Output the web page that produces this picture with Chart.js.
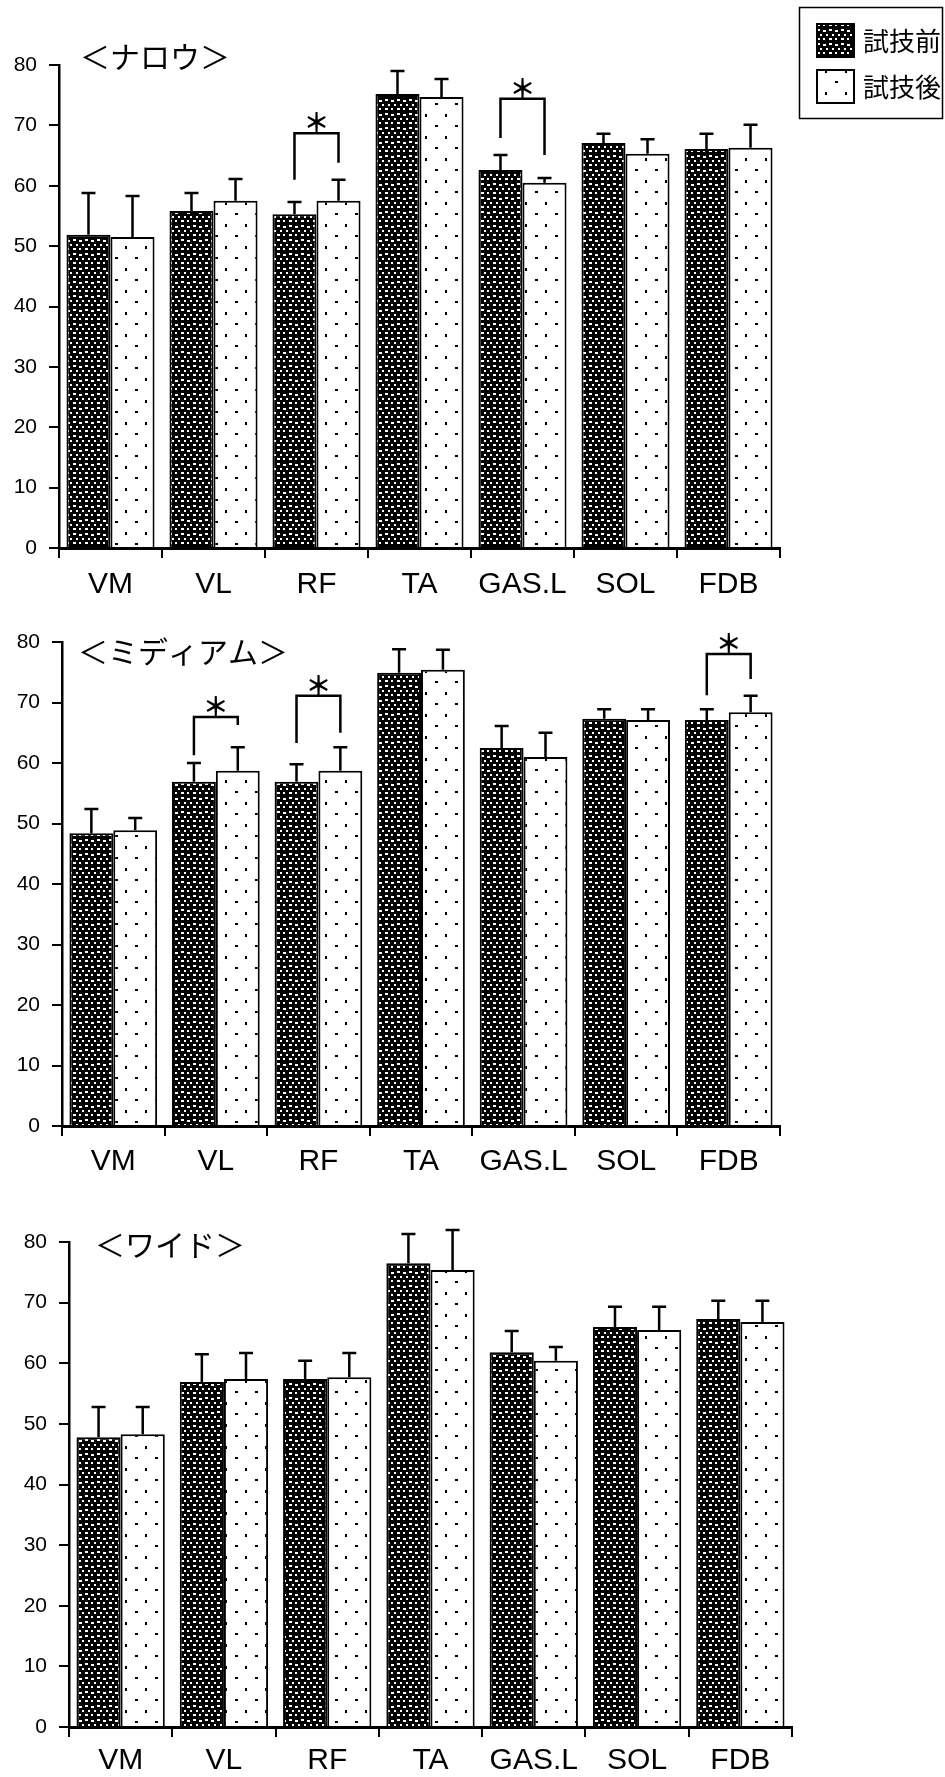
<!DOCTYPE html>
<html>
<head>
<meta charset="utf-8">
<script src="https://cdn.jsdelivr.net/npm/chart.js@4.4.0/dist/chart.umd.min.js"></script>
<style>
  body { margin: 0; background: #fff; width: 945px; height: 1777px; position: relative; overflow: hidden; }
  .panel { position: absolute; left: 0; width: 945px; }
</style>
</head>
<body>
<div class="panel" style="top:0;height:600px"><canvas id="narrow" width="945" height="600"></canvas></div>
<div class="panel" style="top:600px;height:600px"><canvas id="medium" width="945" height="600"></canvas></div>
<div class="panel" style="top:1200px;height:577px"><canvas id="wide" width="945" height="577"></canvas></div>
<script>
const categories = ['VM', 'VL', 'RF', 'TA', 'GAS.L', 'SOL', 'FDB'];
const seriesLabels = ['試技前', '試技後'];
const yTickStep = 10;
const yMax = 80;

// ナロウ
const narrowPre = [51.9, 55.8, 55.3, 75.2, 62.6, 67.1, 66.1];
const narrowPreSD = [6.9, 3.0, 2.0, 3.8, 2.5, 1.5, 2.5];
const narrowPost = [51.5, 57.5, 57.5, 74.7, 60.5, 65.3, 66.3];
const narrowPostSD = [6.8, 3.6, 3.5, 3.0, 0.8, 2.4, 3.8];
// [category, bracket level, left leg end, right leg end]
const narrowSig = [['RF', 68.7, 61.0, 63.8], ['GAS.L', 74.4, 67.9, 65.1]];

// ミディアム
const mediumPre = [48.4, 56.9, 56.9, 74.9, 62.5, 67.3, 67.1];
const mediumPreSD = [4.0, 3.1, 2.9, 3.9, 3.6, 1.6, 1.8];
const mediumPost = [48.9, 58.7, 58.7, 75.4, 61.0, 67.1, 68.4];
const mediumPostSD = [2.0, 3.9, 3.9, 3.3, 4.0, 1.8, 2.7];
const mediumSig = [['VL', 67.6, 61.3, 66.3], ['RF', 71.1, 63.3, 65.0], ['FDB', 78.0, 71.2, 73.9]];

// ワイド
const widePre = [47.8, 56.9, 57.4, 76.5, 61.8, 66.0, 67.3];
const widePreSD = [5.0, 4.6, 3.0, 4.8, 3.5, 3.3, 3.0];
const widePost = [48.3, 57.4, 57.7, 75.4, 60.4, 65.5, 66.8];
const widePostSD = [4.5, 4.3, 4.0, 6.6, 2.3, 3.8, 3.5];
const wideSig = [];

function makePattern(dark) {
  const tile = document.createElement('canvas');
  const g = tile.getContext('2d');
  if (dark) {
    tile.width = 12; tile.height = 14;
    g.fillStyle = '#000'; g.fillRect(0, 0, 12, 14);
    g.fillStyle = '#fff';
    g.fillRect(1, 1, 3, 2); g.fillRect(7, 2, 3, 2);
    g.fillRect(4, 6, 2, 2); g.fillRect(10, 6, 2, 2);
    g.fillRect(1, 10, 3, 2); g.fillRect(7, 10, 2, 2);
  } else {
    tile.width = 20; tile.height = 22;
    g.fillStyle = '#fff'; g.fillRect(0, 0, 20, 22);
    g.fillStyle = '#000';
    g.fillRect(5, 4, 2, 3); g.fillRect(15, 15, 3, 2);
  }
  return document.createElement('canvas').getContext('2d').createPattern(tile, 'repeat');
}
const darkFill = makePattern(true);
const lightFill = makePattern(false);

const errorBars = {
  id: 'errorBars',
  afterDatasetsDraw(chart, args, opts) {
    const { ctx } = chart;
    const y = chart.scales.y;
    ctx.save();
    ctx.strokeStyle = '#000';
    ctx.lineWidth = 2.5;
    opts.sd.forEach((sd, di) => {
      const ds = chart.data.datasets[di];
      chart.getDatasetMeta(di).data.forEach((bar, i) => {
        const y0 = y.getPixelForValue(ds.data[i]);
        const y1 = y.getPixelForValue(ds.data[i] + sd[i]);
        ctx.beginPath();
        ctx.moveTo(bar.x, y0); ctx.lineTo(bar.x, y1);
        ctx.moveTo(bar.x - 7, y1); ctx.lineTo(bar.x + 7, y1);
        ctx.stroke();
      });
    });
    // significance brackets
    ctx.lineWidth = 2.5;
    ctx.font = 'bold 26px "Noto Sans CJK JP"';
    ctx.fillStyle = '#000';
    ctx.textAlign = 'center';
    ctx.textBaseline = 'middle';
    opts.sig.forEach(([cat, level, leftEnd, rightEnd]) => {
      const i = categories.indexOf(cat);
      const xl = chart.getDatasetMeta(0).data[i].x;
      const xr = chart.getDatasetMeta(1).data[i].x;
      const yt = y.getPixelForValue(level);
      ctx.beginPath();
      ctx.moveTo(xl, y.getPixelForValue(leftEnd));
      ctx.lineTo(xl, yt); ctx.lineTo(xr, yt);
      ctx.lineTo(xr, y.getPixelForValue(rightEnd));
      ctx.stroke();
      ctx.fillText('＊', (xl + xr) / 2, yt - 11);
    });
    ctx.restore();
  }
};

const panelTitle = {
  id: 'panelTitle',
  afterDraw(chart, args, opts) {
    const { ctx, chartArea } = chart;
    ctx.save();
    ctx.font = '30px "Noto Sans CJK JP"';
    ctx.fillStyle = '#000';
    ctx.textAlign = 'left';
    ctx.textBaseline = 'middle';
    ctx.fillText(opts.text, chartArea.left + opts.dx, chartArea.top + opts.dy);
    ctx.restore();
  }
};

const boxLegend = {
  id: 'boxLegend',
  afterDraw(chart, args, opts) {
    if (!opts.show) return;
    const { ctx } = chart;
    ctx.save();
    ctx.strokeStyle = '#000';
    ctx.lineWidth = 1.5;
    ctx.strokeRect(799.5, 7.5, 143, 111);
    ctx.font = '26px "Noto Sans CJK JP"';
    ctx.textBaseline = 'middle';
    ctx.fillStyle = '#000';
    chart.data.datasets.forEach((ds, i) => {
      const top = 23 + i * 46;
      ctx.fillStyle = ds.backgroundColor;
      ctx.fillRect(816, top, 39, 35);
      ctx.lineWidth = 2;
      ctx.strokeRect(817, top + 1, 37, 33);
      ctx.fillStyle = '#000';
      ctx.fillText(ds.label, 863, top + 18);
    });
    ctx.restore();
  }
};

function makeChart(id, pre, preSD, post, postSD, sig, title, layout) {
  new Chart(document.getElementById(id), {
    type: 'bar',
    data: {
      labels: categories,
      datasets: [
        { label: seriesLabels[0], data: pre, backgroundColor: darkFill },
        { label: seriesLabels[1], data: post, backgroundColor: lightFill }
      ]
    },
    options: {
      responsive: false,
      animation: false,
      devicePixelRatio: 1,
      layout: { padding: { top: layout.top, right: layout.right, left: 0, bottom: 0 } },
      datasets: {
        bar: {
          categoryPercentage: 0.855,
          barPercentage: 1.0,
          borderColor: '#000',
          borderWidth: 2,
          borderSkipped: 'bottom'
        }
      },
      plugins: {
        legend: { display: false },
        tooltip: { enabled: false },
        errorBars: { sd: [preSD, postSD], sig: sig },
        panelTitle: { text: title, dx: layout.titleX, dy: layout.titleY },
        boxLegend: { show: !!layout.legend }
      },
      scales: {
        x: {
          grid: { display: true, drawOnChartArea: false, drawTicks: true, tickLength: 10, color: '#000', lineWidth: 2, offset: true },
          border: { display: true, color: '#000', width: 3 },
          ticks: { color: '#000', font: { family: 'Liberation Sans', size: 30 }, padding: layout.labelPad, maxRotation: 0, autoSkip: false },
          afterFit(s) { s.height = layout.xh; }
        },
        y: {
          min: 0,
          max: yMax,
          ticks: { stepSize: yTickStep, color: '#000', font: { family: 'Liberation Sans', size: 21 }, padding: 12 },
          grid: { drawOnChartArea: false, tickLength: 10, color: '#000', lineWidth: 2 },
          border: { display: true, color: '#000', width: 2.5 },
          afterFit(s) { s.width = layout.yw; }
        }
      }
    },
    plugins: [errorBars, panelTitle, boxLegend]
  });
}

makeChart('narrow', narrowPre, narrowPreSD, narrowPost, narrowPostSD, narrowSig, '＜ナロウ＞',
  { top: 65, right: 165, yw: 59, xh: 52, labelPad: 9, titleX: 21, titleY: -8, legend: true });
makeChart('medium', mediumPre, mediumPreSD, mediumPost, mediumPostSD, mediumSig, '＜ミディアム＞',
  { top: 42, right: 165, yw: 62, xh: 74, labelPad: 8, titleX: 16, titleY: 10 });
makeChart('wide', widePre, widePreSD, widePost, widePostSD, wideSig, '＜ワイド＞',
  { top: 42, right: 153, yw: 69, xh: 50, labelPad: 6, titleX: 26, titleY: 3 });
</script>
</body>
</html>
